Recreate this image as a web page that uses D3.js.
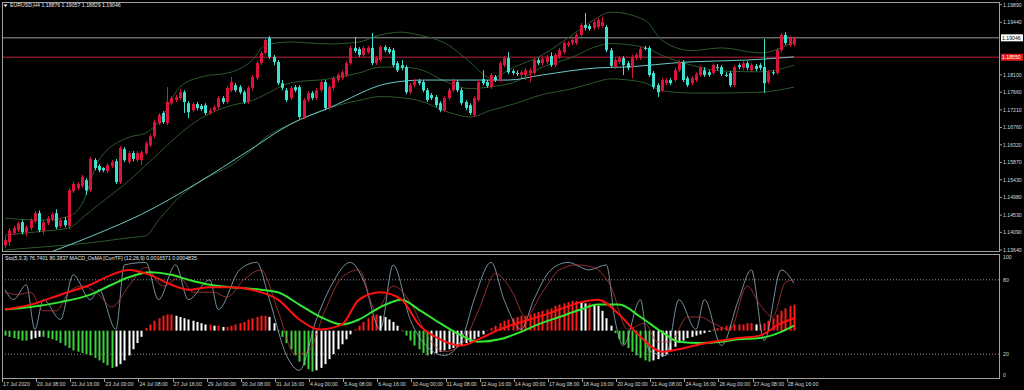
<!DOCTYPE html>
<html><head><meta charset="utf-8">
<script src="https://cdn.jsdelivr.net/npm/d3@7"></script>
<style>body{margin:0;background:#000;}svg{display:block;}text{font-family:"Liberation Sans",Arial,sans-serif;}</style>
</head><body>
<svg id="c" width="1024" height="390"></svg>
<script>
// ---------- DATA ----------
const symbolTitle = "EURUSD,H4";
const lastOHLC = ["1.18876","1.19057","1.18829","1.19046"];
const subTitle = "Sto(5,3,3) 76.7401 80.3837  MACD_OsMA [CurrTF] (12,26,9) 0.0016571 0.0004835";
const opens = [1.1376,1.1384,1.1407,1.1414,1.1435,1.1409,1.1420,1.1437,1.1458,1.1412,1.1432,1.1443,1.1458,1.1425,1.1440,1.1425,1.1514,1.1522,1.1527,1.1542,1.1516,1.1593,1.1578,1.1573,1.1565,1.1578,1.1590,1.1537,1.1621,1.1588,1.1611,1.1593,1.1593,1.1611,1.1631,1.1654,1.1687,1.1713,1.1687,1.1738,1.1746,1.1751,1.1766,1.1738,1.1720,1.1736,1.1731,1.1733,1.1713,1.1720,1.1728,1.1751,1.1741,1.1771,1.1784,1.1779,1.1766,1.1741,1.1777,1.1802,1.1840,1.1866,1.1904,1.1856,1.1843,1.1789,1.1771,1.1751,1.1779,1.1779,1.1703,1.1746,1.1764,1.1751,1.1771,1.1792,1.1726,1.1777,1.1797,1.1802,1.1810,1.1840,1.1879,1.1876,1.1861,1.1868,1.1879,1.1840,1.1848,1.1881,1.1876,1.1873,1.1840,1.1835,1.1830,1.1766,1.1784,1.1794,1.1792,1.1771,1.1759,1.1754,1.1738,1.1720,1.1751,1.1771,1.1792,1.1771,1.1741,1.1733,1.1708,1.1746,1.1800,1.1792,1.1779,1.1805,1.1797,1.1835,1.1853,1.1820,1.1815,1.1810,1.1810,1.1815,1.1815,1.1848,1.1840,1.1843,1.1858,1.1835,1.1856,1.1868,1.1886,1.1891,1.1891,1.1912,1.1937,1.1935,1.1930,1.1932,1.1935,1.1932,1.1873,1.1830,1.1843,1.1853,1.1840,1.1828,1.1853,1.1853,1.1879,1.1879,1.1815,1.1784,1.1771,1.1789,1.1797,1.1797,1.1822,1.1843,1.1802,1.1789,1.1797,1.1810,1.1822,1.1817,1.1815,1.1830,1.1830,1.1810,1.1815,1.1784,1.1835,1.1828,1.1840,1.1822,1.1833,1.1835,1.1830,1.1792,1.1817,1.1815,1.1873,1.1912,1.1886,1.18876];
const highs = [1.1399,1.1420,1.1425,1.1437,1.1440,1.1427,1.1445,1.1463,1.1465,1.1440,1.1450,1.1460,1.1468,1.1445,1.1448,1.1522,1.1539,1.1537,1.1555,1.1547,1.1601,1.1598,1.1583,1.1575,1.1585,1.1593,1.1596,1.1629,1.1626,1.1616,1.1616,1.1616,1.1618,1.1641,1.1659,1.1695,1.1713,1.1718,1.1779,1.1756,1.1759,1.1774,1.1771,1.1743,1.1741,1.1741,1.1736,1.1738,1.1726,1.1733,1.1756,1.1756,1.1782,1.1805,1.1789,1.1784,1.1771,1.1782,1.1810,1.1845,1.1871,1.1904,1.1909,1.1861,1.1848,1.1797,1.1777,1.1782,1.1784,1.1784,1.1751,1.1769,1.1769,1.1777,1.1797,1.1797,1.1784,1.1807,1.1815,1.1822,1.1845,1.1884,1.1907,1.1881,1.1884,1.1884,1.1917,1.1858,1.1886,1.1886,1.1881,1.1879,1.1845,1.1848,1.1835,1.1789,1.1800,1.1800,1.1797,1.1777,1.1764,1.1759,1.1743,1.1756,1.1777,1.1802,1.1797,1.1777,1.1746,1.1738,1.1756,1.1797,1.1822,1.1797,1.1815,1.1810,1.1845,1.1858,1.1868,1.1825,1.1822,1.1822,1.1828,1.1828,1.1853,1.1853,1.1856,1.1861,1.1868,1.1866,1.1879,1.1896,1.1896,1.1904,1.1917,1.1942,1.1968,1.1940,1.1950,1.1955,1.1958,1.1937,1.1879,1.1853,1.1858,1.1858,1.1845,1.1861,1.1866,1.1881,1.1884,1.1884,1.1820,1.1789,1.1802,1.1802,1.1802,1.1828,1.1848,1.1848,1.1807,1.1807,1.1817,1.1833,1.1830,1.1822,1.1840,1.1838,1.1835,1.1817,1.1820,1.1835,1.1840,1.1845,1.1845,1.1840,1.1838,1.1840,1.1902,1.1822,1.1822,1.1879,1.1917,1.1919,1.1909,1.19057];
const lows = [1.1369,1.1374,1.1402,1.1409,1.1404,1.1399,1.1414,1.1432,1.1409,1.1404,1.1427,1.1437,1.1417,1.1420,1.1422,1.1417,1.1509,1.1516,1.1522,1.1504,1.1511,1.1567,1.1562,1.1562,1.1560,1.1573,1.1532,1.1532,1.1588,1.1583,1.1590,1.1588,1.1580,1.1606,1.1626,1.1649,1.1682,1.1685,1.1682,1.1733,1.1741,1.1746,1.1713,1.1700,1.1715,1.1720,1.1718,1.1708,1.1708,1.1715,1.1723,1.1736,1.1736,1.1766,1.1766,1.1761,1.1736,1.1736,1.1771,1.1797,1.1835,1.1861,1.1851,1.1835,1.1784,1.1771,1.1741,1.1746,1.1766,1.1698,1.1698,1.1741,1.1746,1.1746,1.1766,1.1720,1.1720,1.1771,1.1792,1.1797,1.1805,1.1835,1.1866,1.1856,1.1856,1.1863,1.1835,1.1835,1.1843,1.1868,1.1863,1.1830,1.1817,1.1822,1.1761,1.1761,1.1779,1.1784,1.1766,1.1741,1.1746,1.1728,1.1715,1.1715,1.1746,1.1766,1.1766,1.1733,1.1720,1.1708,1.1703,1.1741,1.1784,1.1777,1.1774,1.1792,1.1792,1.1830,1.1812,1.1810,1.1807,1.1802,1.1797,1.1792,1.1810,1.1835,1.1835,1.1838,1.1830,1.1830,1.1851,1.1863,1.1881,1.1886,1.1886,1.1907,1.1924,1.1922,1.1924,1.1927,1.1930,1.1868,1.1828,1.1825,1.1838,1.1810,1.1822,1.1802,1.1848,1.1848,1.1873,1.1805,1.1774,1.1754,1.1766,1.1784,1.1784,1.1792,1.1817,1.1792,1.1779,1.1784,1.1792,1.1805,1.1805,1.1805,1.1810,1.1822,1.1807,1.1805,1.1779,1.1779,1.1825,1.1822,1.1822,1.1817,1.1820,1.1822,1.1764,1.1787,1.1810,1.1810,1.1868,1.1886,1.1881,1.18829];
const closes = [1.1389,1.1414,1.1420,1.1432,1.1409,1.1422,1.1440,1.1458,1.1414,1.1435,1.1445,1.1455,1.1422,1.1440,1.1427,1.1516,1.1532,1.1532,1.1550,1.1516,1.1596,1.1573,1.1567,1.1567,1.1580,1.1588,1.1537,1.1624,1.1593,1.1611,1.1596,1.1611,1.1613,1.1636,1.1654,1.1690,1.1708,1.1690,1.1741,1.1751,1.1754,1.1766,1.1741,1.1715,1.1736,1.1726,1.1723,1.1713,1.1720,1.1728,1.1751,1.1741,1.1777,1.1792,1.1771,1.1766,1.1741,1.1777,1.1805,1.1840,1.1866,1.1899,1.1856,1.1843,1.1789,1.1777,1.1746,1.1777,1.1771,1.1703,1.1746,1.1764,1.1751,1.1771,1.1792,1.1726,1.1779,1.1802,1.1810,1.1817,1.1840,1.1879,1.1871,1.1861,1.1879,1.1879,1.1840,1.1853,1.1881,1.1873,1.1868,1.1835,1.1822,1.1828,1.1766,1.1784,1.1794,1.1789,1.1771,1.1746,1.1751,1.1733,1.1720,1.1751,1.1771,1.1797,1.1771,1.1738,1.1726,1.1713,1.1751,1.1792,1.1789,1.1782,1.1810,1.1797,1.1840,1.1853,1.1817,1.1815,1.1814,1.1817,1.1822,1.1822,1.1848,1.1840,1.1851,1.1856,1.1835,1.1861,1.1873,1.1891,1.1891,1.1899,1.1912,1.1937,1.1930,1.1927,1.1945,1.1950,1.1945,1.1873,1.1833,1.1848,1.1853,1.1835,1.1828,1.1856,1.1861,1.1876,1.1877,1.1810,1.1779,1.1766,1.1797,1.1797,1.1789,1.1822,1.1843,1.1797,1.1784,1.1802,1.1812,1.1828,1.1810,1.1810,1.1835,1.1829,1.1812,1.1808,1.1784,1.1830,1.1830,1.1840,1.1828,1.1835,1.1825,1.1828,1.1789,1.1817,1.1815,1.1873,1.1912,1.1891,1.1904,1.19046];

// slow moving average (light cyan) read at sample bars
const maBars = [8,12,22,32,45,57,67,76,90,98,108,118,126,139,145,160,174,185];
const maVals = [1.1348,1.1364,1.1407,1.1455,1.1534,1.1616,1.1685,1.1726,1.1789,1.1797,1.1797,1.1797,1.1810,1.1828,1.1830,1.1843,1.1848,1.1856];
// Bollinger bands read at sample bars
const bbBars  = [0,9,15,18,22,29,33,36,41,46,53,58,61,67,76,83,88,93,97,104,109,114,119,126,133,138,142,150,154,161,168,177,185];
const bbUpper = [1.1445,1.1440,1.1450,1.1480,1.1593,1.1651,1.1662,1.1690,1.1779,1.1805,1.1817,1.1848,1.1886,1.1894,1.1889,1.1894,1.1912,1.1919,1.1912,1.1886,1.1843,1.1802,1.1828,1.1861,1.1912,1.1950,1.1970,1.1950,1.1899,1.1872,1.1879,1.1866,1.1894];
const bbMid   = [1.1402,1.1412,1.1420,1.1445,1.1480,1.1540,1.1580,1.1610,1.1660,1.1700,1.1732,1.1745,1.1760,1.1790,1.1800,1.1815,1.1830,1.1830,1.1825,1.1790,1.1775,1.1780,1.1790,1.1830,1.1855,1.1880,1.1890,1.1880,1.1860,1.1835,1.1820,1.1818,1.1835];
const bbLower = [1.1364,1.1372,1.1377,1.1380,1.1385,1.1395,1.1400,1.1440,1.1500,1.1540,1.1580,1.1620,1.1650,1.1685,1.1726,1.1745,1.1755,1.1752,1.1745,1.1715,1.1703,1.1720,1.1735,1.1760,1.1775,1.1790,1.1800,1.1790,1.1770,1.1764,1.1764,1.1766,1.1779];

// sub window (0..100 scale)
const stochBars = [0,2,5,7,9,13,16,20,22,26,28,33,36,40,43,48,50,55,59,62,66,69,73,76,81,84,88,91,95,100,103,107,110,114,117,121,124,128,132,137,141,143,145,149,151,155,158,162,164,168,172,175,178,182,185];
const stochMain = [72,64,76,40,64,48,84,64,72,40,92,94,64,92,64,80,56,88,94,64,19,7,48,72,94,80,40,92,48,23,19,31,64,94,64,40,64,88,94,88,92,48,27,64,23,19,64,40,64,27,64,88,31,88,77];
const sigBars = [0,3,6,9,12,15,18,22,25,29,33,37,41,44,49,52,56,60,64,68,71,75,79,83,87,91,95,99,103,107,111,115,119,122,126,130,134,138,142,146,150,153,156,160,163,166,170,174,177,180,183,185];
const stochSignal = [70,68,70,55,55,70,75,68,58,75,90,75,82,70,70,66,80,88,55,20,22,55,82,88,55,75,62,35,22,28,55,85,70,50,70,88,92,90,75,40,45,30,30,50,50,45,40,75,60,50,78,80];
const macdBars = [0,6,13,20,25,29,34,39,43,48,53,60,64,69,74,79,83,88,93,97,102,107,111,116,121,125,130,135,139,144,149,154,158,163,168,172,177,182,185];
const macdMain = [56,60,68,76,84,88,84,76,72,74,74,70,64,48,40,44,64,70,64,44,32,27,32,40,46,50,56,62,64,52,34,22,24,28,31,33,35,45,49];
const macdSignal = [56,58,62,68,76,82,86,84,80,76,74,72,70,60,50,44,48,58,64,56,45,35,30,32,38,44,50,56,60,60,50,38,30,29,30,32,33,38,43];
const histBase = 39;
const osma = [-4,-5,-6,-7,-8,-8,-7,-6,-5,-5,-6,-7,-8,-10,-12,-14,-16,-17,-18,-19,-20,-22,-24,-26,-28,-30,-29,-27,-24,-20,-15,-10,-5,2,5,8,10,12,13,13,12,11,10,9,8,7,6,5,5,4,4,3,3,4,5,6,7,9,10,11,12,12,11,6,0,-5,-10,-15,-20,-25,-28,-31,-33,-32,-30,-27,-23,-19,-15,-11,-7,-3,1,4,7,10,12,13,12,11,9,7,4,0,-4,-8,-12,-15,-18,-20,-19,-18,-17,-16,-15,-14,-13,-12,-10,-9,-7,-5,-3,0,2,4,6,8,9,10,11,12,12,13,14,15,16,17,18,20,21,22,23,24,24,23,22,22,21,20,16,10,4,-2,-7,-11,-14,-17,-20,-22,-24,-25,-24,-23,-21,-19,-16,-13,-10,-8,-6,-5,-4,-3,-2,-1,1,2,3,4,4,5,5,5,6,6,5,5,6,8,10,13,16,18,20,21];

const priceTicks = [1.19890,1.19440,1.18100,1.17660,1.17210,1.16760,1.16320,1.15870,1.15430,1.14980,1.14530,1.14090,1.13640];
const bidPrice = 1.19046;
const levelPrice = 1.18550;
const subTicks = [100,80,20,0];
const subLevels = [80,20];
const timeLabels = ["17 Jul 2020","20 Jul 08:00","21 Jul 16:00","23 Jul 00:00","24 Jul 08:00","27 Jul 16:00","29 Jul 00:00","30 Jul 08:00","31 Jul 16:00","4 Aug 00:00","5 Aug 08:00","6 Aug 16:00","10 Aug 00:00","11 Aug 08:00","12 Aug 16:00","14 Aug 00:00","17 Aug 08:00","18 Aug 16:00","20 Aug 00:00","21 Aug 08:00","24 Aug 16:00","26 Aug 00:00","27 Aug 08:00","28 Aug 16:00"];
const timeLabelBars = [0,8,16,24,32,40,48,56,64,72,80,88,96,104,112,120,128,136,144,152,160,168,176,184];

// ---------- DRAW ----------
const W=1024,H=390, L=2, R=1000, mT=3, mB=252, sT=254, sB=379;
const svg=d3.select('#c');
svg.append('rect').attr('width',W).attr('height',H).attr('fill','#000');
const x=d3.scaleLinear().domain([0,185]).range([5,794]);
const y=d3.scaleLinear().domain([1.13640,1.19890]).range([250,4.7]);
const ys=d3.scaleLinear().domain([0,100]).range([379,255]);
const defs=svg.append('defs');
defs.append('clipPath').attr('id','cm').append('rect').attr('x',L).attr('y',mT).attr('width',R-L).attr('height',mB-mT);
defs.append('clipPath').attr('id','cs').append('rect').attr('x',L).attr('y',sT).attr('width',R-L).attr('height',sB-sT);
const gm=svg.append('g').attr('clip-path','url(#cm)');
const gs=svg.append('g').attr('clip-path','url(#cs)');

// horizontal lines
gm.append('line').attr('x1',L).attr('x2',R).attr('y1',y(levelPrice)).attr('y2',y(levelPrice)).attr('stroke','#801428').attr('stroke-width',1.4);
gm.append('line').attr('x1',L).attr('x2',R).attr('y1',y(bidPrice)).attr('y2',y(bidPrice)).attr('stroke','#9a9a9a').attr('stroke-width',1);

const pline=(bars,vals)=>d3.line().x((d,i)=>x(bars[i])).y(d=>y(d)).curve(d3.curveMonotoneX)(vals);
[bbUpper,bbMid,bbLower].forEach(v=>gm.append('path').attr('d',pline(bbBars,v)).attr('fill','none').attr('stroke','#2c5a2c').attr('stroke-width',1));
gm.append('path').attr('d',pline(maBars,maVals)).attr('fill','none').attr('stroke','#6cc8c8').attr('stroke-width',1);

// candles
const idx=d3.range(opens.length);
const col=i=>closes[i]>=opens[i]?'#dc143c':'#40e0d0';
gm.selectAll('line.w').data(idx).join('line').attr('x1',i=>Math.round(x(i))+0.5).attr('x2',i=>Math.round(x(i))+0.5)
  .attr('y1',i=>y(highs[i])).attr('y2',i=>y(lows[i])).attr('stroke',col).attr('stroke-width',1);
gm.selectAll('rect.b').data(idx).join('rect').attr('x',i=>Math.round(x(i))-1).attr('width',3)
  .attr('y',i=>y(Math.max(opens[i],closes[i]))).attr('height',i=>Math.max(1,Math.abs(y(opens[i])-y(closes[i])))).attr('fill',col);

// frames
svg.append('rect').attr('x',L+0.5).attr('y',mT-0.5).attr('width',R-L-1).attr('height',mB-mT).attr('fill','none').attr('stroke','#a0a0a0');
svg.append('rect').attr('x',L+0.5).attr('y',sT+0.5).attr('width',R-L-1).attr('height',sB-sT-1).attr('fill','none').attr('stroke','#a0a0a0');

// price axis
const fs=5.2;
svg.selectAll('text.p').data(priceTicks).join('text').attr('x',1003).attr('y',d=>y(d)+1.8).attr('fill','#d8d8d8').attr('font-size',fs).text(d=>d.toFixed(5));
svg.selectAll('line.pt').data(priceTicks).join('line').attr('x1',R).attr('x2',R+2).attr('y1',d=>y(d)).attr('y2',d=>y(d)).attr('stroke','#a0a0a0');
// bid box
svg.append('rect').attr('x',R+1).attr('y',y(bidPrice)-3.5).attr('width',22).attr('height',7).attr('fill','#fff');
svg.append('text').attr('x',1002).attr('y',y(bidPrice)+1.8).attr('fill','#000').attr('font-size',fs).text(bidPrice.toFixed(5));
svg.append('rect').attr('x',R+1).attr('y',y(levelPrice)-3.5).attr('width',22).attr('height',7).attr('fill','#e01818');
svg.append('text').attr('x',1002).attr('y',y(levelPrice)+1.8).attr('fill','#fff').attr('font-size',fs).text(levelPrice.toFixed(5));

// header
svg.append('path').attr('d','M3.5,4.5 L7.5,4.5 L5.5,7 Z').attr('fill','#fff');
svg.append('text').attr('x',10).attr('y',7).attr('fill','#e8e8e8').attr('font-size',fs).text(symbolTitle+"  "+lastOHLC.join(" "));

// sub window
subLevels.forEach(v=>gs.append('line').attr('x1',L).attr('x2',R).attr('y1',ys(v)).attr('y2',ys(v)).attr('stroke','#909090').attr('stroke-dasharray','1,2'));
const histCol=i=>{const v=osma[i],p=i>0?osma[i-1]:v; if(v>=0) return v>=p?'#ff1a1a':'#ffffff'; return v<=p?'#3cd23c':'#ffffff';};
gs.selectAll('rect.h').data(idx).join('rect').attr('x',i=>Math.round(x(i))-0.5).attr('width',2)
  .attr('y',i=>Math.min(ys(histBase),ys(histBase+osma[i]))).attr('height',i=>Math.max(0.5,Math.abs(ys(histBase+osma[i])-ys(histBase)))).attr('fill',histCol);
const sline=(bars,vals)=>d3.line().x((d,i)=>x(bars[i])).y(d=>ys(d)).curve(d3.curveMonotoneX)(vals);
gs.append('path').attr('d',sline(stochBars,stochMain)).attr('fill','none').attr('stroke','#8fb4c4').attr('stroke-width',0.8);
gs.append('path').attr('d',sline(sigBars,stochSignal)).attr('fill','none').attr('stroke','#b83a3a').attr('stroke-width',0.8);
gs.append('path').attr('d',sline(macdBars,macdSignal)).attr('fill','none').attr('stroke','#32e632').attr('stroke-width',2);
gs.append('path').attr('d',sline(macdBars,macdMain)).attr('fill','none').attr('stroke','#ff1010').attr('stroke-width',2);
svg.append('text').attr('x',5).attr('y',260).attr('fill','#e8e8e8').attr('font-size',fs).text(subTitle);
svg.selectAll('text.s').data(subTicks).join('text').attr('x',1003).attr('y',d=>Math.max(259,Math.min(377,ys(d)+1.8))).attr('fill','#d8d8d8').attr('font-size',fs).text(d=>d);

// time axis
svg.selectAll('line.tt').data(timeLabelBars).join('line').attr('x1',d=>Math.round(x(d))-2.5).attr('x2',d=>Math.round(x(d))-2.5).attr('y1',sB).attr('y2',sB+3).attr('stroke','#a0a0a0');
svg.selectAll('text.t').data(timeLabels).join('text').attr('x',(d,i)=>x(timeLabelBars[i])-2).attr('y',386).attr('fill','#d8d8d8').attr('font-size',fs).text(d=>d);
</script>
</body></html>
